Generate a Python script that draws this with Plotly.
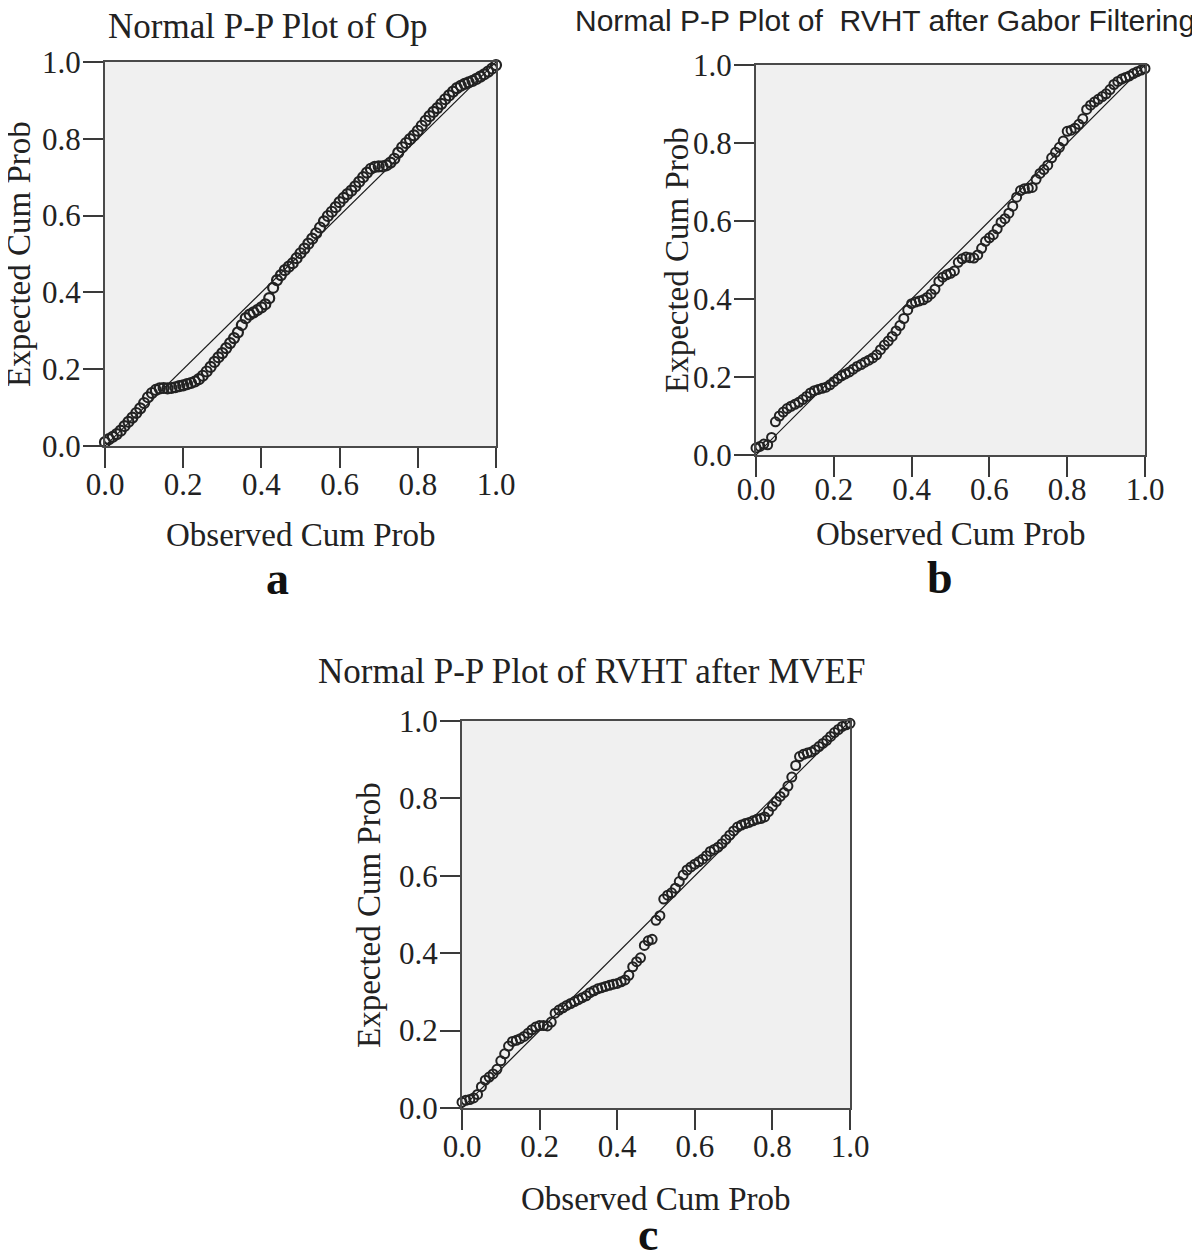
import plotly.graph_objects as go

# ---------------- data ----------------
obs_a = [round(i * 0.01, 2) for i in range(101)]
exp_a = [0.010, 0.018, 0.024, 0.031, 0.040, 0.052, 0.063, 0.074, 0.086, 0.098,
         0.112, 0.127, 0.138, 0.146, 0.150, 0.151, 0.150, 0.151, 0.153, 0.156,
         0.158, 0.161, 0.164, 0.168, 0.174, 0.183, 0.194, 0.206, 0.219, 0.231,
         0.242, 0.255, 0.268, 0.281, 0.296, 0.315, 0.333, 0.342, 0.348, 0.354,
         0.361, 0.369, 0.385, 0.412, 0.432, 0.445, 0.458, 0.467, 0.476, 0.489,
         0.502, 0.514, 0.527, 0.540, 0.554, 0.569, 0.585, 0.599, 0.610, 0.622,
         0.635, 0.646, 0.656, 0.665, 0.676, 0.688, 0.700, 0.712, 0.722, 0.727,
         0.728, 0.728, 0.731, 0.738, 0.748, 0.764, 0.778, 0.789, 0.799, 0.809,
         0.821, 0.834, 0.847, 0.859, 0.870, 0.880, 0.891, 0.903, 0.913, 0.923,
         0.932, 0.938, 0.943, 0.947, 0.951, 0.956, 0.962, 0.968, 0.975, 0.983,
         0.992]

obs_b = [round(i * 0.01, 2) for i in range(101)]
exp_b = [0.018, 0.022, 0.028, 0.026, 0.045, 0.085, 0.100, 0.110, 0.119, 0.125,
         0.130, 0.135, 0.142, 0.150, 0.159, 0.165, 0.168, 0.171, 0.174, 0.180,
         0.188, 0.196, 0.203, 0.208, 0.213, 0.220, 0.227, 0.232, 0.238, 0.243,
         0.249, 0.257, 0.270, 0.282, 0.292, 0.304, 0.318, 0.332, 0.350, 0.372,
         0.388, 0.392, 0.395, 0.398, 0.404, 0.413, 0.425, 0.445, 0.456, 0.462,
         0.466, 0.472, 0.494, 0.503, 0.508, 0.506, 0.505, 0.513, 0.530, 0.548,
         0.557, 0.565, 0.580, 0.597, 0.606, 0.620, 0.638, 0.661, 0.678, 0.683,
         0.684, 0.686, 0.707, 0.722, 0.732, 0.743, 0.762, 0.776, 0.789, 0.805,
         0.830, 0.833, 0.838, 0.848, 0.862, 0.886, 0.897, 0.905, 0.912, 0.919,
         0.926, 0.937, 0.950, 0.958, 0.964, 0.968, 0.972, 0.978, 0.983, 0.987,
         0.991]

obs_c = [round(i * 0.01, 2) for i in range(101)]
exp_c = [0.015, 0.020, 0.022, 0.026, 0.035, 0.055, 0.072, 0.080, 0.088, 0.100,
         0.122, 0.140, 0.160, 0.172, 0.175, 0.179, 0.185, 0.193, 0.202, 0.209,
         0.213, 0.213, 0.212, 0.222, 0.245, 0.253, 0.259, 0.265, 0.270, 0.275,
         0.280, 0.285, 0.290, 0.298, 0.303, 0.308, 0.311, 0.314, 0.317, 0.320,
         0.322, 0.326, 0.331, 0.343, 0.365, 0.378, 0.388, 0.420, 0.432, 0.436,
         0.485, 0.497, 0.540, 0.550, 0.556, 0.568, 0.585, 0.602, 0.615, 0.623,
         0.630, 0.636, 0.643, 0.652, 0.663, 0.668, 0.674, 0.683, 0.694, 0.705,
         0.716, 0.726, 0.731, 0.735, 0.738, 0.742, 0.746, 0.748, 0.752, 0.766,
         0.780, 0.792, 0.805, 0.815, 0.832, 0.855, 0.885, 0.908, 0.914, 0.917,
         0.920, 0.926, 0.934, 0.942, 0.950, 0.960, 0.970, 0.978, 0.986, 0.990,
         0.994]

ref_line = [0.0, 1.0]
tick_vals = [0.0, 0.2, 0.4, 0.6, 0.8, 1.0]
tick_text = ["0.0", "0.2", "0.4", "0.6", "0.8", "1.0"]

titles = ["Normal P-P Plot of Op",
          "Normal P-P Plot of \u00a0RVHT after Gabor Filtering",
          "Normal P-P Plot of RVHT after MVEF"]
x_title = "Observed Cum Prob"
y_title = "Expected Cum Prob"
panel_labels = ["a", "b", "c"]

# ---------------- layout geometry (target screen pixels) ----------------
W, H = 1200, 1255
OFF = 8  # page body margin
boxes = [  # left, right, top, bottom
    (105, 496, 62, 446),
    (756, 1145, 65, 455),
    (462, 850, 721, 1108),
]
x_standoff = [-10, -14, -10]

def px(x):
    return (x - OFF) / W

def py(y):
    return 1 - (y - OFF) / H

SERIF = "Liberation Serif, Times New Roman, serif"
SANS = "Liberation Sans, Arial, sans-serif"

fig = go.Figure()
series = [(obs_a, exp_a), (obs_b, exp_b), (obs_c, exp_c)]
for i, (xs, ys) in enumerate(series):
    xa = "x" if i == 0 else f"x{i+1}"
    ya = "y" if i == 0 else f"y{i+1}"
    fig.add_trace(go.Scatter(x=ref_line, y=ref_line, mode="lines",
                             line=dict(color="#1a1a1a", width=1.2),
                             xaxis=xa, yaxis=ya, showlegend=False,
                             hoverinfo="skip"))
    fig.add_trace(go.Scatter(x=xs, y=ys, mode="markers",
                             marker=dict(symbol="circle-open",
                                         size=10 if i == 0 else 9,
                                         color="#222222",
                                         line=dict(width=2.2 if i == 0 else 2)),
                             cliponaxis=False,
                             xaxis=xa, yaxis=ya, showlegend=False))

axis_common = dict(range=[0, 1], tickvals=tick_vals, ticktext=tick_text,
                   showgrid=False, zeroline=False, showline=True, mirror=True,
                   linecolor="#4a4a4a", linewidth=2, ticks="outside",
                   ticklen=20, tickwidth=2, tickcolor="#3a3a3a",
                   tickfont=dict(family=SERIF, size=31, color="#222222"),
                   fixedrange=True, automargin=False)

layout = dict(width=W, height=H,
              margin=dict(l=0, r=0, t=0, b=0, pad=0, autoexpand=False),
              paper_bgcolor="white", plot_bgcolor="#f0f0f0",
              showlegend=False)

for i, (l, r, t, b) in enumerate(boxes):
    xk = "xaxis" if i == 0 else f"xaxis{i+1}"
    yk = "yaxis" if i == 0 else f"yaxis{i+1}"
    xa = "x" if i == 0 else f"x{i+1}"
    ya = "y" if i == 0 else f"y{i+1}"
    layout[xk] = dict(axis_common, domain=[px(l), px(r)], anchor=ya,
                      ticklabelstandoff=x_standoff[i])
    layout[yk] = dict(axis_common, domain=[py(b), py(t)], anchor=xa,
                      ticklabelstandoff=-4)

fig.update_layout(**layout)

ann = []

def add_text(text, x, y, font, xanchor="center", angle=0):
    ann.append(dict(text=text, x=px(x), y=py(y), xref="paper", yref="paper",
                    xanchor=xanchor, yanchor="middle", showarrow=False,
                    textangle=angle, font=font))

# panel titles
add_text(titles[0], 268, 27, dict(family=SERIF, size=35, color="#222"))
add_text(titles[1], 573, 20, dict(family=SANS, size=30, color="#222"), xanchor="left")
add_text(titles[2], 591, 671, dict(family=SERIF, size=35, color="#222"))
# axis titles
xt_pos = [(300, 535), (950, 534), (655, 1199)]
yt_pos = [(19, 254), (677, 260), (369, 915)]
for (x, y) in xt_pos:
    add_text(x_title, x, y, dict(family=SERIF, size=33, color="#222"))
for (x, y) in yt_pos:
    add_text(y_title, x, y, dict(family=SERIF, size=33, color="#222"), angle=-90)
# panel letters
lab_pos = [(277, 578), (940, 577), (648, 1234)]
for t, (x, y) in zip(panel_labels, lab_pos):
    add_text(f"<b>{t}</b>", x, y, dict(family=SERIF, size=46, color="#111"))

fig.update_layout(annotations=ann)
fig.write_html("out.html")
